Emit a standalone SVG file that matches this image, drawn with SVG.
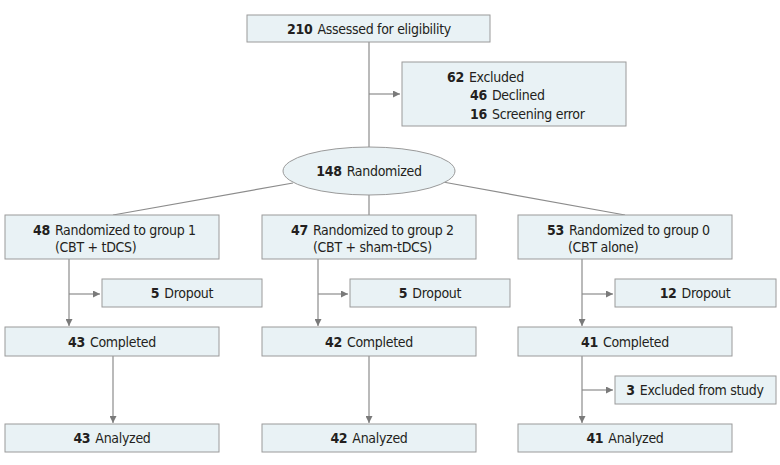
<svg xmlns="http://www.w3.org/2000/svg" width="780" height="465" viewBox="0 0 780 465">
<defs>
<style>
.box{fill:#e9f2f5;stroke:#9a9a9a;stroke-width:1}
.ln{fill:none;stroke:#8c8c8c;stroke-width:1.2}
text{font-family:"DejaVu Sans Condensed","Liberation Sans",sans-serif;font-stretch:condensed;font-size:14px;letter-spacing:-0.3px;fill:#231f20}
.b{font-weight:bold}
.c{text-anchor:middle}
</style>
<marker id="ah" viewBox="0 0 10 10" refX="10" refY="5" markerWidth="7" markerHeight="7" markerUnits="userSpaceOnUse" orient="auto">
<path d="M0,0 L10,5 L0,10 z" fill="#7a7a7a"/>
</marker>
</defs>
<rect width="780" height="465" fill="#ffffff"/>
<g id="connectors">
<line class="ln" x1="369" y1="42" x2="369" y2="147"/>
<line class="ln" x1="369" y1="94" x2="400" y2="94" marker-end="url(#ah)"/>
<line class="ln" x1="293" y1="183" x2="113" y2="215"/>
<line class="ln" x1="369" y1="195" x2="369" y2="215"/>
<line class="ln" x1="443" y1="182" x2="625" y2="215"/>
<line class="ln" x1="69" y1="259" x2="69" y2="326" marker-end="url(#ah)"/>
<line class="ln" x1="69" y1="294" x2="100" y2="294" marker-end="url(#ah)"/>
<line class="ln" x1="318" y1="259" x2="318" y2="326" marker-end="url(#ah)"/>
<line class="ln" x1="318" y1="294" x2="348" y2="294" marker-end="url(#ah)"/>
<line class="ln" x1="582" y1="259" x2="582" y2="326" marker-end="url(#ah)"/>
<line class="ln" x1="582" y1="294" x2="613" y2="294" marker-end="url(#ah)"/>
<line class="ln" x1="113" y1="356" x2="113" y2="423" marker-end="url(#ah)"/>
<line class="ln" x1="369" y1="356" x2="369" y2="423" marker-end="url(#ah)"/>
<line class="ln" x1="582" y1="356" x2="582" y2="423" marker-end="url(#ah)"/>
<line class="ln" x1="582" y1="390" x2="613" y2="390" marker-end="url(#ah)"/>
</g>
<g id="assessed">
<rect class="box" x="247" y="15" width="243" height="27"/>
<text class="c" x="369" y="34"><tspan class="b">210</tspan><tspan dx="5">Assessed for eligibility</tspan></text>
</g>
<g id="excluded">
<rect class="box" x="402" y="62" width="224" height="64"/>
<text x="447" y="82"><tspan class="b">62</tspan><tspan dx="5">Excluded</tspan></text>
<text x="470" y="100"><tspan class="b">46</tspan><tspan dx="5">Declined</tspan></text>
<text x="470" y="119"><tspan class="b">16</tspan><tspan dx="5">Screening error</tspan></text>
</g>
<g id="randomized">
<ellipse class="box" cx="369" cy="171" rx="86" ry="24"/>
<text class="c" x="369" y="176"><tspan class="b">148</tspan><tspan dx="5">Randomized</tspan></text>
</g>
<g id="group1">
<rect class="box" x="5" y="215" width="214" height="44"/>
<text x="33" y="235"><tspan class="b">48</tspan><tspan dx="5">Randomized to group 1</tspan></text>
<text x="55" y="252">(CBT + tDCS)</text>
</g>
<g id="group2">
<rect class="box" x="262" y="215" width="214" height="44"/>
<text x="291" y="235"><tspan class="b">47</tspan><tspan dx="5">Randomized to group 2</tspan></text>
<text x="313" y="252">(CBT + sham-tDCS)</text>
</g>
<g id="group0">
<rect class="box" x="518" y="215" width="214" height="44"/>
<text x="547" y="235"><tspan class="b">53</tspan><tspan dx="5">Randomized to group 0</tspan></text>
<text x="568" y="252">(CBT alone)</text>
</g>
<g id="dropout1">
<rect class="box" x="102" y="279" width="160" height="28"/>
<text class="c" x="182" y="298"><tspan class="b">5</tspan><tspan dx="5">Dropout</tspan></text>
</g>
<g id="dropout2">
<rect class="box" x="350" y="279" width="160" height="28"/>
<text class="c" x="430" y="298"><tspan class="b">5</tspan><tspan dx="5">Dropout</tspan></text>
</g>
<g id="dropout0">
<rect class="box" x="615" y="279" width="161" height="28"/>
<text class="c" x="695" y="298"><tspan class="b">12</tspan><tspan dx="5">Dropout</tspan></text>
</g>
<g id="completed1">
<rect class="box" x="5" y="327" width="214" height="29"/>
<text class="c" x="112" y="347"><tspan class="b">43</tspan><tspan dx="5">Completed</tspan></text>
</g>
<g id="completed2">
<rect class="box" x="262" y="327" width="214" height="29"/>
<text class="c" x="369" y="347"><tspan class="b">42</tspan><tspan dx="5">Completed</tspan></text>
</g>
<g id="completed0">
<rect class="box" x="518" y="327" width="214" height="29"/>
<text class="c" x="625" y="347"><tspan class="b">41</tspan><tspan dx="5">Completed</tspan></text>
</g>
<g id="excludedstudy">
<rect class="box" x="615" y="376" width="161" height="28"/>
<text class="c" x="695" y="395"><tspan class="b">3</tspan><tspan dx="5">Excluded from study</tspan></text>
</g>
<g id="analyzed1">
<rect class="box" x="5" y="424" width="214" height="28"/>
<text class="c" x="112" y="443"><tspan class="b">43</tspan><tspan dx="5">Analyzed</tspan></text>
</g>
<g id="analyzed2">
<rect class="box" x="262" y="424" width="214" height="28"/>
<text class="c" x="369" y="443"><tspan class="b">42</tspan><tspan dx="5">Analyzed</tspan></text>
</g>
<g id="analyzed0">
<rect class="box" x="518" y="424" width="214" height="28"/>
<text class="c" x="625" y="443"><tspan class="b">41</tspan><tspan dx="5">Analyzed</tspan></text>
</g>
</svg>
